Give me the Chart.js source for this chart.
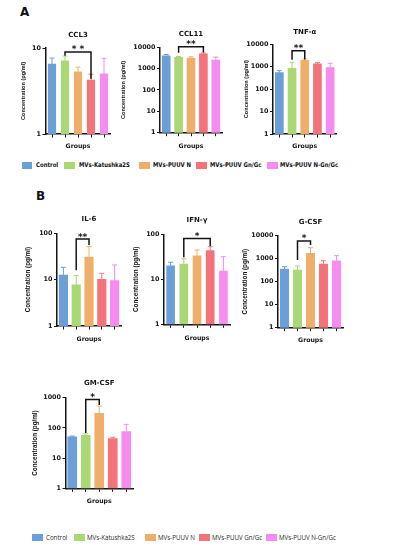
<!DOCTYPE html>
<html><head><meta charset="utf-8">
<script src="https://cdn.jsdelivr.net/npm/chart.js@4.4.1/dist/chart.umd.min.js"></script>
<style>
html,body{margin:0;padding:0;background:#fff;}
body{width:395px;height:550px;position:relative;overflow:hidden;}
canvas{position:absolute;}
.panel{position:absolute;font-family:"DejaVu Sans";font-weight:bold;font-size:12px;line-height:12px;color:#111;}
.sw{position:absolute;height:7px;}
.lt{position:absolute;white-space:nowrap;transform-origin:0 50%;}
</style></head><body>
<div class="panel" style="left:20px;top:6px;">A</div>
<div class="panel" style="left:36px;top:190px;">B</div>
<script>
// ---------- data ----------
const groups = ['Control', 'MVs-Katushka2S', 'MVs-PUUV N', 'MVs-PUUV Gn/Gc', 'MVs-PUUV N-Gn/Gc'];
const colors = ['#6A9FD8', '#A9D874', '#EFAF6B', '#F4727A', '#F68BF0'];

const ccl3Mean  = [6.5, 7.1, 5.3, 4.25, 5.0];
const ccl3Err   = [7.65, 8.05, 6.0, 4.95, 7.6];
const ccl3Ticks = [1, 10];

const ccl11Mean  = [4000, 3400, 3150, 5000, 2550];
const ccl11Err   = [4600, 3700, 3600, 5400, 3500];
const ccl11Ticks = [1, 10, 100, 1000, 10000];

const tnfMean  = [545, 850, 1950, 1330, 910];
const tnfErr   = [670, 1520, 2200, 1520, 1430];
const tnfTicks = [1, 10, 100, 1000, 10000];

const il6Mean  = [12.6, 7.7, 30.5, 10.2, 9.5];
const il6Err   = [18.5, 12.2, 51.6, 13.7, 20.8];
const il6Ticks = [1, 10, 100];

const ifnMean  = [20, 21.9, 33.4, 43.2, 15.3];
const ifnErr   = [23.9, 28.7, 44.8, 53, 31.8];
const ifnTicks = [1, 10, 100];

const gcsfMean  = [357, 323, 1720, 590, 818];
const gcsfErr   = [449, 482, 3000, 818, 1350];
const gcsfTicks = [1, 10, 100, 1000, 10000];

const gmcsfMean  = [51, 57, 304, 44, 75];
const gmcsfErr   = [54, 64, 530, 49, 131];
const gmcsfTicks = [1, 10, 100, 1000];

// significance brackets: from group, to group, bracket level, left leg end, right leg end, label
const ccl3Sig  = {from: 1, to: 3, top: 9.0,   left: 8.1,  right: 4.4,  text: '* *'};
const ccl11Sig = {from: 1, to: 3, top: 10600, left: 5600, right: 5700, text: '**'};
const tnfSig   = {from: 1, to: 2, top: 5100,  left: 2050, right: 2100, text: '**'};
const il6Sig   = {from: 1, to: 2, top: 75,    left: 16,   right: 56,   text: '**'};
const ifnSig   = {from: 1, to: 3, top: 81,    left: 31,   right: 55,   text: '*'};
const gcsfSig  = {from: 1, to: 2, top: 5900,  left: 880,  right: 3900, text: '*'};
const gmcsfSig = {from: 1, to: 2, top: 880,   left: 68,   right: 570,  text: '*'};

// ---------- layout ----------
const layouts = {
  ccl3:  {left: 45.5, right: 110.5, top: 48,    bottom: 134,   titleY: 35,    groupsY: 146,   ylabelX: 23.3, ylabelSize: 5.6, barW: 7.5},
  ccl11: {left: 160,  right: 222,   top: 47.3,  bottom: 132.7, titleY: 34,    groupsY: 146,   ylabelX: 123,  ylabelSize: 5.6, barW: 8},
  tnf:   {left: 273,  right: 336.5, top: 44.3,  bottom: 134,   titleY: 32,    groupsY: 146,   ylabelX: 246.7,ylabelSize: 5.6, barW: 8},
  il6:   {left: 57,   right: 121,   top: 233.3, bottom: 326,   titleY: 219,   groupsY: 339.5, ylabelX: 28.5, ylabelSize: 6.3, barW: 8.5},
  ifn:   {left: 164,  right: 230,   top: 234.3, bottom: 324.3, titleY: 220.5, groupsY: 338,   ylabelX: 136.7,ylabelSize: 6.3, barW: 8},
  gcsf:  {left: 278,  right: 343,   top: 235.7, bottom: 327.7, titleY: 222,   groupsY: 340.5, ylabelX: 245.7,ylabelSize: 6.3, barW: 8.3},
  gmcsf: {left: 65.5, right: 133,   top: 397.7, bottom: 488.3, titleY: 383.5, groupsY: 501.5, ylabelX: 35,   ylabelSize: 6.3, barW: 9}
};

const INK = '#151515';

function makeExtras(errs, sig) {
  return {
    id: 'extras',
    afterDatasetsDraw(chart) {
      const ctx = chart.ctx;
      const ys = chart.scales.y;
      const meta = chart.getDatasetMeta(0);
      ctx.save();
      meta.data.forEach((bar, i) => {
        const x = bar.x;
        const y1 = ys.getPixelForValue(errs[i]);
        ctx.strokeStyle = colors[i];
        ctx.lineWidth = 1;
        ctx.beginPath();
        ctx.moveTo(x, bar.y);
        ctx.lineTo(x, y1);
        ctx.moveTo(x - 2.5, y1);
        ctx.lineTo(x + 2.5, y1);
        ctx.stroke();
      });
      const xa = meta.data[sig.from].x, xb = meta.data[sig.to].x;
      const yt = ys.getPixelForValue(sig.top);
      const yl = ys.getPixelForValue(sig.left);
      const yr = ys.getPixelForValue(sig.right);
      ctx.strokeStyle = INK;
      ctx.lineWidth = 1.5;
      ctx.lineJoin = 'miter';
      ctx.beginPath();
      ctx.moveTo(xa, yl);
      ctx.lineTo(xa, yt);
      ctx.lineTo(xb, yt);
      ctx.lineTo(xb, yr);
      ctx.stroke();
      ctx.fillStyle = INK;
      ctx.font = 'bold 9px "DejaVu Sans"';
      ctx.textAlign = 'center';
      ctx.textBaseline = 'alphabetic';
      ctx.fillText(sig.text, (xa + xb) / 2, yt + 0.5);
      ctx.restore();
    }
  };
}

function drawPanel(L, title, means, errs, yTicks, sig) {
  const TITLE_FS = 7, LH = 1.2;
  const YT_FS = L.ylabelSize;
  const XT_FS = 6.2;
  const cl = Math.floor(L.ylabelX - YT_FS * LH / 2 - 1);
  const ylPadTop = (L.ylabelX - YT_FS * LH / 2) - cl;
  const ct = Math.floor(L.titleY - TITLE_FS * LH / 2 - 1);
  const tPadTop = (L.titleY - TITLE_FS * LH / 2) - ct;
  const tPadBottom = L.top - L.titleY - TITLE_FS * LH / 2;
  const cw = Math.ceil(L.right - cl + 3);
  const padRight = cw - (L.right - cl);
  const ch = Math.ceil(L.groupsY + XT_FS * LH / 2 + 1 - ct);
  const xPadBottom = (ct + ch) - (L.groupsY + XT_FS * LH / 2);
  const yW = L.left - cl;
  const xH = (ct + ch) - L.bottom;

  const cv = document.createElement('canvas');
  cv.width = cw; cv.height = ch;
  cv.style.left = cl + 'px'; cv.style.top = ct + 'px';
  cv.style.width = cw + 'px'; cv.style.height = ch + 'px';
  document.body.appendChild(cv);

  new Chart(cv, {
    type: 'bar',
    data: {
      labels: groups,
      datasets: [{data: means, backgroundColor: colors, borderWidth: 0, barThickness: L.barW}]
    },
    plugins: [makeExtras(errs, sig)],
    options: {
      responsive: false,
      maintainAspectRatio: false,
      animation: false,
      devicePixelRatio: 1,
      layout: {padding: {left: 0, right: padRight, top: 0, bottom: 0}},
      plugins: {
        legend: {display: false},
        tooltip: {enabled: false},
        title: {
          display: true, text: title, fullSize: false, color: INK,
          font: {family: 'DejaVu Sans', weight: 'bold', size: TITLE_FS, lineHeight: LH},
          padding: {top: tPadTop, bottom: tPadBottom}
        }
      },
      scales: {
        x: {
          type: 'category', offset: true,
          grid: {display: true, offset: false, drawOnChartArea: false, drawTicks: true, tickLength: 3.5, color: INK, lineWidth: 1},
          border: {display: true, color: INK, width: 1.5},
          ticks: {display: false},
          title: {display: true, text: 'Groups', color: INK,
                  font: {family: 'DejaVu Sans', weight: 'bold', size: XT_FS, lineHeight: LH},
                  padding: {top: 0, bottom: xPadBottom}},
          afterFit(s) { s.height = xH; }
        },
        y: {
          type: 'logarithmic', min: yTicks[0], max: yTicks[yTicks.length - 1],
          afterBuildTicks(s) { s.ticks = yTicks.map(v => ({value: v})); },
          ticks: {color: INK, autoSkip: false, padding: 1.5,
                  font: {family: 'DejaVu Sans', weight: 'bold', size: 6.4},
                  callback: (v) => String(v)},
          grid: {display: true, drawOnChartArea: false, drawTicks: true, tickLength: 3, color: INK, lineWidth: 1},
          border: {display: true, color: INK, width: 1.5},
          title: {display: true, text: 'Concentration (pg/ml)', color: INK,
                  font: {family: 'Liberation Sans', weight: 'bold', size: YT_FS, lineHeight: LH},
                  padding: {top: ylPadTop, bottom: 0}},
          afterFit(s) { s.width = yW; }
        }
      }
    }
  });
}

drawPanel(layouts.ccl3,  'CCL3',   ccl3Mean,  ccl3Err,  ccl3Ticks,  ccl3Sig);
drawPanel(layouts.ccl11, 'CCL11',  ccl11Mean, ccl11Err, ccl11Ticks, ccl11Sig);
drawPanel(layouts.tnf,   'TNF-α',  tnfMean,   tnfErr,   tnfTicks,   tnfSig);
drawPanel(layouts.il6,   'IL-6',   il6Mean,   il6Err,   il6Ticks,   il6Sig);
drawPanel(layouts.ifn,   'IFN-γ',  ifnMean,   ifnErr,   ifnTicks,   ifnSig);
drawPanel(layouts.gcsf,  'G-CSF',  gcsfMean,  gcsfErr,  gcsfTicks,  gcsfSig);
drawPanel(layouts.gmcsf, 'GM-CSF', gmcsfMean, gmcsfErr, gmcsfTicks, gmcsfSig);

// ---------- legends (HTML) ----------
const legendLayouts = [
  {y: 165, swX: [21.7, 64, 139, 196, 267], swW: 10.8, txX: [36, 78.5, 153, 209.5, 279.5],
   font: 'bold 6.4px "DejaVu Sans"', sx: 0.84, color: '#111'},
  {y: 537.3, swX: [32.3, 74, 145, 199.3, 266], swW: 10.8, txX: [45.7, 87.3, 158, 212, 279],
   font: '7.2px "Open Sans"', sx: 0.86, color: '#2a2a2a'}
];
legendLayouts.forEach(LG => {
  groups.forEach((g, i) => {
    const sw = document.createElement('div');
    sw.className = 'sw';
    sw.style.left = LG.swX[i] + 'px';
    sw.style.top = (LG.y - 3.5) + 'px';
    sw.style.width = LG.swW + 'px';
    sw.style.background = colors[i];
    document.body.appendChild(sw);
    const t = document.createElement('div');
    t.className = 'lt';
    t.textContent = g;
    t.style.font = LG.font;
    t.style.lineHeight = '8px';
    t.style.color = LG.color;
    t.style.left = LG.txX[i] + 'px';
    t.style.top = (LG.y - 4) + 'px';
    t.style.transform = 'scaleX(' + LG.sx + ')';
    document.body.appendChild(t);
  });
});
</script>
</body></html>
